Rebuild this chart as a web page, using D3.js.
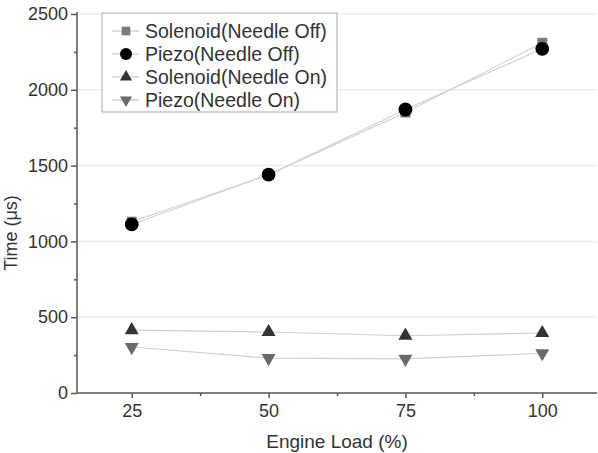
<!DOCTYPE html>
<html><head><meta charset="utf-8">
<script src="https://cdn.jsdelivr.net/npm/d3@7"></script>
<style>html,body{margin:0;padding:0;background:#fff;}svg{display:block;font-family:"Liberation Sans",Arial,sans-serif;}</style>
</head><body><svg id="c" width="598" height="453"></svg>
<script>
const loads = [25, 50, 75, 100];
const solenoidOff = [1130, 1440, 1850, 2310];
const piezoOff = [1112, 1440, 1870, 2270];
const solenoidOn = [415, 402, 378, 396];
const piezoOn = [303, 230, 225, 262];
const xTicks = [25, 50, 75, 100];
const xMinor = [37.5, 62.5, 87.5];
const yTicks = [0, 500, 1000, 1500, 2000, 2500];
const yMinor = [250, 750, 1250, 1750, 2250];
const seriesNames = ["Solenoid(Needle Off)", "Piezo(Needle Off)", "Solenoid(Needle On)", "Piezo(Needle On)"];

const series = [
  {name: seriesNames[0], values: solenoidOff, sym: d3.symbolSquare, size: 100, color: "#7a7a7a", rot: 0},
  {name: seriesNames[1], values: piezoOff, sym: d3.symbolCircle, size: 150, color: "#000", rot: 0},
  {name: seriesNames[2], values: solenoidOn, sym: d3.symbolTriangle, size: 85, color: "#333", rot: 0},
  {name: seriesNames[3], values: piezoOn, sym: d3.symbolTriangle, size: 85, color: "#6a6a6a", rot: 180}
];

const svg = d3.select("#c");
const x = d3.scaleLinear().domain([15, 110]).range([77, 597]);
const y = d3.scaleLinear().domain([0, 2500]).range([393, 14]);

// gridlines
svg.append("g").selectAll("line").data(yTicks.filter(d => d > 0)).join("line")
  .attr("x1", 78).attr("x2", 597).attr("y1", d => y(d)).attr("y2", d => y(d))
  .attr("stroke", "#ececec").attr("stroke-width", 1.5);

// lines
const line = d3.line().x((d, i) => x(loads[i])).y(d => y(d));
series.forEach(s => {
  svg.append("path").datum(s.values).attr("d", line)
    .attr("fill", "none").attr("stroke", "#cfcfcf").attr("stroke-width", 1.1);
});

// axes
const axisColor = "#555";
const fmt = d3.format("d");
const xAxis = svg.append("g").attr("transform", "translate(0,393)")
  .call(d3.axisBottom(x).tickValues(xTicks).tickFormat(fmt).tickSize(5).tickPadding(6));
const xMin = svg.append("g").attr("transform", "translate(0,393)")
  .call(d3.axisBottom(x).tickValues(xMinor).tickSize(3).tickFormat(""));
xMin.select(".domain").remove();
const yAxis = svg.append("g").attr("transform", "translate(77,0)")
  .call(d3.axisLeft(y).tickValues(yTicks).tickFormat(fmt).tickSize(6).tickPadding(3));
const yMin = svg.append("g").attr("transform", "translate(77,0)")
  .call(d3.axisLeft(y).tickValues(yMinor).tickSize(3).tickFormat(""));
yMin.select(".domain").remove();
[xAxis, xMin, yAxis, yMin].forEach(g => {
  g.selectAll("path,line").attr("stroke", axisColor).attr("stroke-width", 1.5);
  g.selectAll("text").attr("fill", "#333").style("font-size", "18px").style("font-family", "'Liberation Sans',Arial,sans-serif");
});
xAxis.select(".domain").attr("d", "M77,0H597");
yAxis.select(".domain").attr("d", "M0,393V12");

// markers
series.forEach(s => {
  svg.append("g").selectAll("path").data(s.values).join("path")
    .attr("d", d3.symbol().type(s.sym).size(s.size))
    .attr("transform", (d, i) => `translate(${x(loads[i])},${y(d)}) rotate(${s.rot})`)
    .attr("fill", s.color);
});

// axis titles
svg.append("text").attr("x", 337).attr("y", 448).attr("text-anchor", "middle")
  .attr("fill", "#333").style("font-size", "19px").text("Engine Load (%)");
svg.append("text").attr("transform", "translate(17,233) rotate(-90)").attr("text-anchor", "middle")
  .attr("fill", "#333").style("font-size", "18px").text("Time (μs)");

// legend
const lg = svg.append("g");
lg.append("rect").attr("x", 102).attr("y", 13).attr("width", 235).attr("height", 99)
  .attr("fill", "#fff").attr("stroke", "#aaa").attr("stroke-width", 1);
series.forEach((s, i) => {
  const cy = 31 + i * 23;
  lg.append("line").attr("x1", 112).attr("x2", 139).attr("y1", cy).attr("y2", cy)
    .attr("stroke", "#c8c8c8").attr("stroke-width", 1.2);
  lg.append("path").attr("d", d3.symbol().type(s.sym).size(s.size * 0.75))
    .attr("transform", `translate(126,${cy}) rotate(${s.rot})`).attr("fill", s.color);
  lg.append("text").attr("x", 145).attr("y", cy + 6.5).attr("fill", "#333")
    .style("font-size", "19.5px").text(s.name);
});
</script></body></html>
